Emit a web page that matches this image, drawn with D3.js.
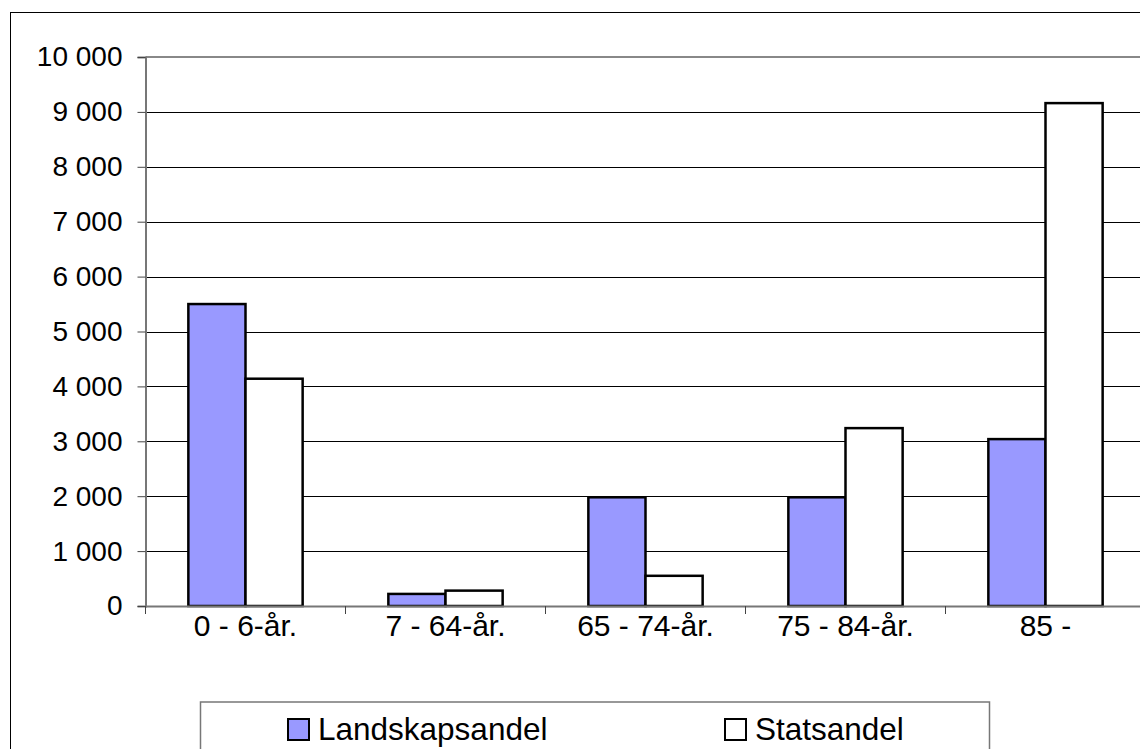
<!DOCTYPE html>
<html><head><meta charset="utf-8">
<script src="https://cdn.jsdelivr.net/npm/d3@7"></script>
<style>body{margin:0;background:#fff;} svg{display:block;}</style>
</head><body>
<svg id="c" width="1140" height="749"></svg>
<script>
const categories = ["0 - 6-år.", "7 - 64-år.", "65 - 74-år.", "75 - 84-år.", "85 -"];
const seriesNames = ["Landskapsandel", "Statsandel"];
const landskapsandel = [5500, 220, 1980, 1980, 3040];
const statsandel = [4140, 280, 550, 3240, 9160];
const yTicks = [0,1000,2000,3000,4000,5000,6000,7000,8000,9000,10000];
const colors = ["#9999FF", "#FFFFFF"];

const svg = d3.select("#c");
const font = "'Liberation Sans', Arial, sans-serif";
const L = 145.5, R = 1145.5, T = 57, B = 606;

svg.append("rect").attr("x",10.5).attr("y",12.5).attr("width",1200).attr("height",800)
  .attr("fill","#fff").attr("stroke","#000").attr("stroke-width",1);

const x = d3.scaleBand().domain(categories).range([L, R]).paddingInner(0).paddingOuter(0);
const y = d3.scaleLinear().domain([0,10000]).range([B, T]);
const xs = d3.scaleBand().domain(seriesNames).range([0, x.bandwidth()]).paddingInner(0).paddingOuter(0.75);

// gridlines
svg.append("g").selectAll("line").data(yTicks.filter(d=>d>0 && d<10000)).join("line")
  .attr("x1",L).attr("x2",R).attr("y1",d=>Math.round(y(d))+0.5).attr("y2",d=>Math.round(y(d))+0.5)
  .attr("stroke","#000").attr("stroke-width",1);

// plot area border top
svg.append("line").attr("x1",L).attr("x2",R).attr("y1",T).attr("y2",T).attr("stroke","#888").attr("stroke-width",2);

// y axis
const yAxis = d3.axisLeft(y).tickValues(yTicks).tickSize(8).tickPadding(15)
  .tickFormat(d => d3.format(",")(d).replace(/,/g, " "));
const gy = svg.append("g").attr("transform",`translate(${L},0)`).call(yAxis);
gy.select(".domain").attr("stroke","#777").attr("stroke-width",2);
gy.selectAll(".tick line").attr("stroke","#444").attr("stroke-width",1);
gy.selectAll("text").attr("font-family",font).attr("font-size",28).attr("fill","#000");

// bars
const data = [landskapsandel, statsandel];
categories.forEach((c,i)=>{
  seriesNames.forEach((s,j)=>{
    const v = data[j][i];
    svg.append("rect")
      .attr("x", x(c)+xs(s)).attr("y", y(v))
      .attr("width", xs.bandwidth()).attr("height", B - y(v))
      .attr("fill", colors[j]).attr("stroke","#000").attr("stroke-width",2.5);
  });
});

// x axis
const xAxis = d3.axisBottom(x).tickSize(0).tickPadding(9);
const gx = svg.append("g").attr("transform",`translate(0,${B})`).call(xAxis);
gx.select(".domain").attr("stroke","#777").attr("stroke-width",2);
gx.selectAll("text").attr("font-family",font).attr("font-size",30).attr("fill","#000");
// x ticks between categories
svg.append("g").selectAll("line").data(categories).join("line")
  .attr("x1",d=>x(d)).attr("x2",d=>x(d)).attr("y1",B).attr("y2",B+8)
  .attr("stroke","#444").attr("stroke-width",1);

// legend
svg.append("rect").attr("x",200.5).attr("y",702).attr("width",789).attr("height",80)
  .attr("fill","#fff").attr("stroke","#777").attr("stroke-width",1.5);
const legX = [288, 725];
seriesNames.forEach((s,j)=>{
  svg.append("rect").attr("x",legX[j]).attr("y",719).attr("width",21).attr("height",21)
    .attr("fill",colors[j]).attr("stroke","#000").attr("stroke-width",2);
  svg.append("text").attr("x",legX[j]+30).attr("y",740).text(s)
    .attr("font-family",font).attr("font-size",31.5).attr("fill","#000");
});
</script>
</body></html>
